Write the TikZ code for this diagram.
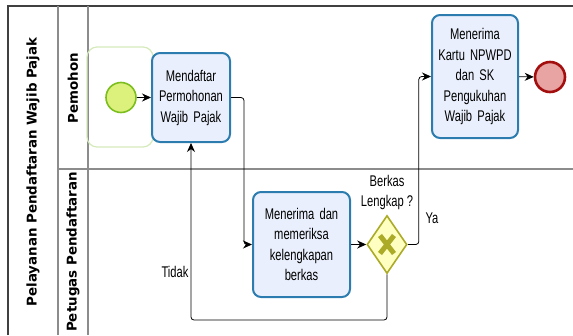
\documentclass[tikz,border=0pt]{standalone}
\usepackage{fontspec}
\usepackage{tikz}
\usetikzlibrary{shapes.geometric,arrows.meta,calc}

\newfontfamily\bpmnfont{Liberation Sans}[FakeStretch=0.72]
\newfontfamily\lanefont{DejaVu Sans}

\definecolor{taskfill}{HTML}{E9EFFC}
\definecolor{taskline}{HTML}{2C7CB0}
\definecolor{startfill}{HTML}{DCF07C}
\definecolor{startline}{HTML}{7DBE1F}
\definecolor{halo}{HTML}{D5EABB}
\definecolor{endfill}{HTML}{E8A3A3}
\definecolor{endline}{HTML}{A30F0F}
\definecolor{gatefill}{HTML}{FFFFC2}
\definecolor{gateline}{HTML}{ABAB28}

\begin{document}
\begin{tikzpicture}[x=1pt, y=-1pt,
    task/.style = {rectangle, rounded corners=8pt, draw=taskline, line width=2pt,
                   fill=taskfill, align=center, inner sep=2pt,
                   font=\bpmnfont\fontsize{15.5}{20.5}\selectfont},
    startev/.style = {circle, draw=startline, line width=1.6pt, fill=startfill,
                      minimum size=30pt, inner sep=0pt},
    endev/.style = {circle, draw=endline, line width=2.6pt, fill=endfill,
                    minimum size=30pt, inner sep=0pt},
    gateway/.style = {diamond, draw=gateline, line width=1.6pt, fill=gatefill,
                      minimum width=40pt, minimum height=58pt, inner sep=0pt},
    flow/.style = {-{Stealth[length=9pt, width=8pt]}, line width=0.8pt,
                   rounded corners=3pt},
    lbl/.style = {font=\bpmnfont\fontsize{15.5}{20}\selectfont, inner sep=0pt, align=center},
    lanelbl/.style = {rotate=90, font=\lanefont\bfseries\fontsize{13.4}{16}\selectfont},
    laneline/.style = {draw=gray!90, line width=1.2pt}]
    \useasboundingbox (0,0) rectangle (573,335);

    % pool and lanes
    \draw[black!75, line width=1.4pt] (8,335) -- (8,6) -- (573,6);
    \draw[laneline] (58,6) -- (58,335);
    \draw[laneline] (88,6) -- (88,335);
    \draw[laneline] (58,169) -- (573,169);
    \node (pool) [lanelbl] at (33,172) {Pelayanan Pendaftaran Wajib Pajak};
    \node (pemohon) [lanelbl] at (73,88) {Pemohon};
    \node (petugas) [lanelbl] at (73,252) {Petugas Pendaftaran};

    % events, tasks and gateway
    \draw[halo, line width=1.2pt, rounded corners=10pt] (87,47) rectangle (153,147);
    \node (mulai) [startev] at (121,97.5) {};
    \node (daftar) [task, minimum width=78pt, minimum height=89pt, text width=72pt]
        at (191,97.5) {Mendaftar\\Permohonan\\Wajib Pajak};
    \node (periksa) [task, minimum width=97pt, minimum height=105pt, text width=90pt]
        at (301.5,244.5) {Menerima dan\\memeriksa\\kelengkapan\\berkas};
    \node (cek) [gateway] at (387,244.5) {};
    \draw[gateline, line width=5pt] ($(cek.center)+(-7,-9)$) -- ($(cek.center)+(7,9)$);
    \draw[gateline, line width=5pt] ($(cek.center)+(-7,9)$) -- ($(cek.center)+(7,-9)$);
    \node (tanya) [lbl] at (387,192) {Berkas\\Lengkap ?};
    \node (terima) [task, minimum width=86pt, minimum height=123pt, text width=80pt]
        at (475,76.5) {Menerima\\Kartu NPWPD\\dan SK\\Pengukuhan\\Wajib Pajak};
    \node (selesai) [endev] at (550,77) {};

    \node (ya) [lbl] at (432,218) {Ya};
    \node (tidak) [lbl] at (175,272) {Tidak};
    \coordinate (balik) at (300,320);

    % sequence flows
    \draw[flow] (mulai) -- (daftar);
    \draw[flow] (daftar.east) -- ++(13,0) |- (periksa.west);
    \draw[flow] (periksa) -- (cek);
    \draw[flow] (cek.east) -- ++(11,0) |- (terima.west);
    \draw[flow] (cek.south) |- (balik) -| (daftar.south);
    \draw[flow] (terima) -- (selesai);
\end{tikzpicture}
\end{document}
